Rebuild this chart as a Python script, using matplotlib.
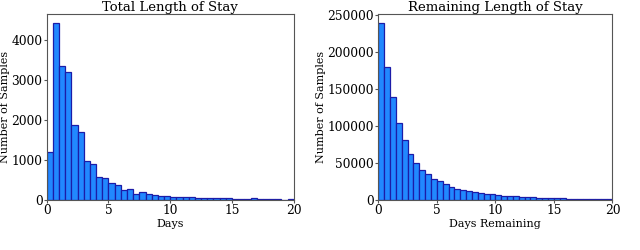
import numpy as np
import matplotlib
matplotlib.use("Agg")
import matplotlib.pyplot as plt

# bin edges (0.5 day bins from 0 to 20)
bin_edges = np.arange(0, 20.5, 0.5)

total_counts = [1190, 4430, 3360, 3200, 1870, 1700, 970, 910, 580, 550,
                420, 380, 250, 270, 160, 200, 150, 130, 100, 110,
                80, 80, 70, 70, 60, 50, 50, 40, 40, 40,
                35, 35, 30, 40, 20, 20, 15, 15, 10, 20]

remaining_counts = [239000, 180000, 139000, 104000, 81000, 62000, 50500, 41000, 35000, 29000,
                    25000, 21000, 18000, 15500, 13500, 12000, 10500, 9500, 8500, 7500,
                    7000, 6000, 5500, 5000, 4500, 4000, 3700, 3300, 3000, 2700,
                    2400, 2200, 2000, 1800, 1600, 1400, 1300, 1200, 1100, 1000]

plt.rcParams['font.family'] = 'DejaVu Serif'

fig = plt.figure(figsize=(6.4, 2.5), dpi=100)
ax1 = fig.add_axes([0.073, 0.2, 0.386, 0.744])
ax2 = fig.add_axes([0.591, 0.2, 0.366, 0.744])

panels = [
    (ax1, total_counts, "Total Length of Stay", "Days"),
    (ax2, remaining_counts, "Remaining Length of Stay", "Days Remaining"),
]

for ax, counts, title, xlabel in panels:
    ax.hist(bin_edges[:-1], bins=bin_edges, weights=counts,
            facecolor="#2188ff", edgecolor="#1c1ca8", linewidth=0.9)
    ax.set_xlim(0, 20)
    ax.set_xticks([0, 5, 10, 15, 20])
    ax.set_title(title, fontsize=9.5, pad=2)
    ax.set_xlabel(xlabel, fontsize=8, labelpad=1)
    ax.set_ylabel("Number of Samples", fontsize=8, labelpad=1)
    ax.tick_params(labelsize=8.8, length=2, pad=1, color="#555555")
    for sp in ax.spines.values():
        sp.set_color("#555555")

fig.savefig("out.png", dpi=100)
